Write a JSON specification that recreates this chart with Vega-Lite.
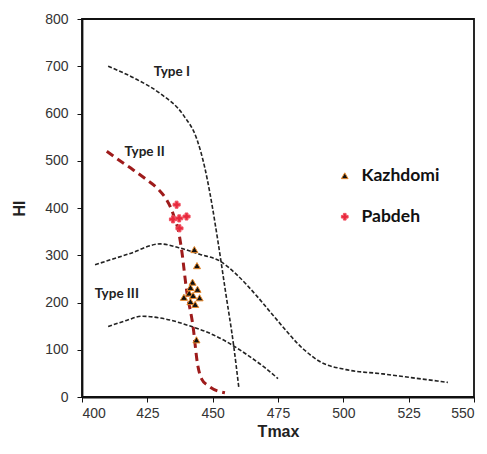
{
  "$schema": "https://vega.github.io/schema/vega-lite/v6.json",
  "width": 392,
  "height": 378,
  "autosize": {"type": "none"},
  "padding": {"left": 82, "top": 19, "right": 13, "bottom": 57},
  "background": "white",
  "datasets": {
    "curves": [
      {"T": 410, "HI": 700, "curve": "Type I"},
      {"T": 421, "HI": 672, "curve": "Type I"},
      {"T": 430, "HI": 642, "curve": "Type I"},
      {"T": 439, "HI": 595, "curve": "Type I"},
      {"T": 444, "HI": 545, "curve": "Type I"},
      {"T": 447, "HI": 485, "curve": "Type I"},
      {"T": 449, "HI": 430, "curve": "Type I"},
      {"T": 452, "HI": 330, "curve": "Type I"},
      {"T": 455, "HI": 220, "curve": "Type I"},
      {"T": 458, "HI": 110, "curve": "Type I"},
      {"T": 460, "HI": 20, "curve": "Type I"},
      {"T": 405, "HI": 280, "curve": "Type III upper"},
      {"T": 418, "HI": 303, "curve": "Type III upper"},
      {"T": 430, "HI": 324, "curve": "Type III upper"},
      {"T": 437, "HI": 316, "curve": "Type III upper"},
      {"T": 445, "HI": 302, "curve": "Type III upper"},
      {"T": 453, "HI": 287, "curve": "Type III upper"},
      {"T": 459, "HI": 260, "curve": "Type III upper"},
      {"T": 467, "HI": 213, "curve": "Type III upper"},
      {"T": 474, "HI": 167, "curve": "Type III upper"},
      {"T": 485, "HI": 100, "curve": "Type III upper"},
      {"T": 491, "HI": 75, "curve": "Type III upper"},
      {"T": 501, "HI": 58, "curve": "Type III upper"},
      {"T": 515, "HI": 49, "curve": "Type III upper"},
      {"T": 526, "HI": 41, "curve": "Type III upper"},
      {"T": 540, "HI": 31, "curve": "Type III upper"},
      {"T": 410, "HI": 149, "curve": "Type III lower"},
      {"T": 417, "HI": 162, "curve": "Type III lower"},
      {"T": 423, "HI": 171, "curve": "Type III lower"},
      {"T": 432, "HI": 165, "curve": "Type III lower"},
      {"T": 442, "HI": 149, "curve": "Type III lower"},
      {"T": 448, "HI": 137, "curve": "Type III lower"},
      {"T": 454, "HI": 121, "curve": "Type III lower"},
      {"T": 463, "HI": 90, "curve": "Type III lower"},
      {"T": 470, "HI": 62, "curve": "Type III lower"},
      {"T": 475, "HI": 39, "curve": "Type III lower"}
    ],
    "type2": [
      {"T": 409.5, "HI": 520},
      {"T": 414.5, "HI": 500},
      {"T": 419.5, "HI": 481},
      {"T": 424.7, "HI": 460},
      {"T": 429.3, "HI": 439},
      {"T": 432.3, "HI": 418},
      {"T": 434.3, "HI": 396},
      {"T": 435.6, "HI": 375},
      {"T": 436.8, "HI": 354},
      {"T": 438.1, "HI": 312},
      {"T": 440, "HI": 227},
      {"T": 442.5, "HI": 149},
      {"T": 444.2, "HI": 70},
      {"T": 445.8, "HI": 38},
      {"T": 448.5, "HI": 23},
      {"T": 454.7, "HI": 9}
    ],
    "samples": [
      {"T": 443, "HI": 312, "sample": "Kazhdomi"},
      {"T": 444, "HI": 278, "sample": "Kazhdomi"},
      {"T": 442.3, "HI": 243, "sample": "Kazhdomi"},
      {"T": 441.5, "HI": 232, "sample": "Kazhdomi"},
      {"T": 444.2, "HI": 228, "sample": "Kazhdomi"},
      {"T": 441, "HI": 220, "sample": "Kazhdomi"},
      {"T": 442.5, "HI": 215, "sample": "Kazhdomi"},
      {"T": 439, "HI": 211, "sample": "Kazhdomi"},
      {"T": 445, "HI": 210, "sample": "Kazhdomi"},
      {"T": 441.5, "HI": 202, "sample": "Kazhdomi"},
      {"T": 443.3, "HI": 196, "sample": "Kazhdomi"},
      {"T": 443.8, "HI": 121, "sample": "Kazhdomi"},
      {"T": 436.2, "HI": 407, "sample": "Pabdeh"},
      {"T": 434.8, "HI": 376, "sample": "Pabdeh"},
      {"T": 437.2, "HI": 378, "sample": "Pabdeh"},
      {"T": 440, "HI": 382, "sample": "Pabdeh"},
      {"T": 437.3, "HI": 357, "sample": "Pabdeh"}
    ],
    "labels": [
      {"T": 434.4, "HI": 688, "label": "Type I"},
      {"T": 424, "HI": 519, "label": "Type II"},
      {"T": 413.3, "HI": 217, "label": "Type III"}
    ]
  },
  "layer": [
    {
      "data": {"name": "curves"},
      "mark": {"type": "line", "color": "#222", "strokeWidth": 1.6, "strokeDash": [4, 2], "interpolate": "monotone"},
      "encoding": {
        "x": {"field": "T", "type": "quantitative", "title": "Tmax", "scale": {"domain": [400, 550], "nice": false}, "axis": {"values": [400, 425, 450, 475, 500, 525, 550], "labelPadding": 4, "titlePadding": 3}},
        "y": {"field": "HI", "type": "quantitative", "title": "HI", "scale": {"domain": [0, 800], "nice": false}, "axis": {"values": [0, 100, 200, 300, 400, 500, 600, 700, 800], "labelPadding": 9, "titlePadding": 17}},
        "detail": {"field": "curve", "type": "nominal"}
      }
    },
    {
      "data": {"name": "type2"},
      "mark": {"type": "line", "color": "#9E1B1B", "strokeWidth": 3, "strokeDash": [8, 5], "interpolate": "monotone"},
      "encoding": {
        "x": {"field": "T", "type": "quantitative"},
        "y": {"field": "HI", "type": "quantitative"}
      }
    },
    {
      "data": {"name": "samples"},
      "mark": {"type": "point", "filled": true, "size": 50, "strokeWidth": 1, "opacity": 1},
      "encoding": {
        "x": {"field": "T", "type": "quantitative"},
        "y": {"field": "HI", "type": "quantitative"},
        "shape": {"field": "sample", "type": "nominal", "title": null, "scale": {"domain": ["Kazhdomi", "Pabdeh"], "range": ["triangle-up", "cross"]}},
        "fill": {"field": "sample", "type": "nominal", "title": null, "scale": {"domain": ["Kazhdomi", "Pabdeh"], "range": ["#111111", "#E8283C"]}},
        "stroke": {"field": "sample", "type": "nominal", "title": null, "scale": {"domain": ["Kazhdomi", "Pabdeh"], "range": ["#E8892B", "#F05060"]}}
      }
    },
    {
      "data": {"name": "labels"},
      "mark": {"type": "text", "font": "Lato", "fontWeight": "bold", "fontSize": 13.5, "color": "#222"},
      "encoding": {
        "x": {"field": "T", "type": "quantitative"},
        "y": {"field": "HI", "type": "quantitative"},
        "text": {"field": "label"}
      }
    }
  ],
  "config": {
    "view": {"stroke": "#111", "strokeWidth": 1.8},
    "axis": {"grid": false, "domainColor": "#111", "domainWidth": 1.8, "tickColor": "#111", "tickSize": 5, "labelFont": "Liberation Sans", "labelFontSize": 14, "labelColor": "#333", "titleFont": "Liberation Sans", "titleFontSize": 16, "titleFontWeight": "bold", "titleColor": "#222"},
    "legend": {"orient": "none", "legendX": 254, "legendY": 148, "labelFont": "Lato", "labelFontSize": 17.5, "labelFontWeight": "bold", "labelColor": "#111", "symbolSize": 45, "rowPadding": 22, "labelOffset": 8, "symbolStrokeWidth": 1}
  }
}
